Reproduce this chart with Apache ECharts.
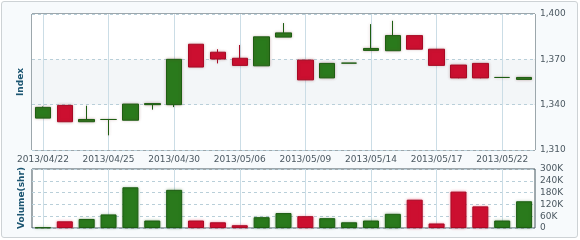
<!DOCTYPE html>
<html><head><meta charset="utf-8">
<script src="https://cdn.jsdelivr.net/npm/echarts@6/dist/echarts.min.js"></script>
<style>
html,body{margin:0;padding:0;background:#fff;}
#frame{position:absolute;left:1px;top:1px;width:575px;height:235px;border:1px solid #cdd2d5;border-radius:3px;background:#f7fafc;}
#chart{position:absolute;left:0;top:0;width:580px;height:240px;}
</style></head><body>
<div id="frame"></div><div id="chart"></div>
<script>
const categories = ['2013/04/22','2013/04/23','2013/04/24','2013/04/25','2013/04/26','2013/04/29','2013/04/30',
  '2013/05/02','2013/05/03','2013/05/06','2013/05/07','2013/05/08','2013/05/09','2013/05/10','2013/05/13',
  '2013/05/14','2013/05/15','2013/05/16','2013/05/17','2013/05/20','2013/05/21','2013/05/22','2013/05/23'];
const openValues  = [1331.1,1339.5,1328.7,1330.2,1329.7,1340.0,1340.0,1380.0,1374.7,1370.7,1365.7,1384.7,1369.5,1357.7,1367.5,1375.9,1375.7,1385.7,1376.7,1366.2,1367.3,1358.0,1356.7];
const closeValues = [1338.2,1328.7,1330.2,1330.2,1340.4,1340.7,1370.0,1364.9,1370.2,1366.0,1384.9,1387.5,1356.4,1367.3,1367.5,1377.2,1385.7,1376.7,1366.0,1357.7,1357.7,1358.0,1358.0];
const lowValues   = [1331.1,1328.7,1328.7,1319.7,1329.7,1336.7,1338.4,1364.9,1367.3,1366.0,1365.7,1384.7,1356.4,1357.7,1367.5,1375.9,1375.7,1376.7,1366.0,1357.5,1357.5,1358.0,1356.7];
const highValues  = [1338.8,1339.5,1339.3,1330.2,1340.4,1340.7,1370.0,1380.0,1376.7,1379.5,1384.9,1394.0,1369.5,1367.3,1367.5,1393.3,1395.5,1385.7,1376.7,1366.2,1367.3,1358.0,1358.0];
const volumes     = [3000,34000,46000,69000,207000,38000,194000,38000,29000,14000,55000,76000,60000,50000,29000,38000,72000,144000,23000,185000,110000,38000,136000];
const priceRange = [1310, 1400, 30];
const volumeRange = [0, 300000, 60000];

const UP = '#2a7a1c', UP_B = '#1d5e12', DN = '#cc0f30', DN_B = '#a80a25';
const candleData = categories.map((c, i) => [openValues[i], closeValues[i], lowValues[i], highValues[i]]);
function isUp(i) {
  if (closeValues[i] > openValues[i]) return true;
  if (closeValues[i] < openValues[i]) return false;
  return i === 0 || closeValues[i - 1] <= closeValues[i];
}
const volData = volumes.map((v, i) => ({
  value: v,
  itemStyle: isUp(i)
    ? {color: UP, borderColor: UP_B, borderWidth: 1, shadowBlur: 3, shadowColor: 'rgba(30,90,20,0.35)'}
    : {color: DN, borderColor: DN_B, borderWidth: 1, shadowBlur: 3, shadowColor: 'rgba(220,20,60,0.4)'}
}));

const FONT = 'DejaVu Sans';
const labelStyle = {color: '#4b5861', fontSize: 9, fontFamily: FONT};
const chart = echarts.init(document.getElementById('chart'), null, {renderer: 'canvas'});
chart.setOption({
  animation: false,
  backgroundColor: 'transparent',
  grid: [
    {left: 32, top: 14, width: 503, height: 136, show: true, backgroundColor: '#fff', borderColor: '#42545c', borderWidth: 1},
    {left: 32, top: 169, width: 503, height: 59, show: true, backgroundColor: '#fff', borderColor: '#42545c', borderWidth: 1}
  ],
  xAxis: [
    {type: 'category', gridIndex: 0, data: categories, boundaryGap: true,
     axisLine: {show: false}, axisTick: {show: false},
     axisLabel: Object.assign({interval: 2, margin: 5}, labelStyle),
     splitLine: {show: true, interval: 2, alignWithLabel: true, lineStyle: {color: '#cbdde6', width: 1}}},
    {type: 'category', gridIndex: 1, data: categories, boundaryGap: true,
     axisLine: {show: false}, axisTick: {show: false}, axisLabel: {show: false},
     splitLine: {show: true, interval: 2, alignWithLabel: true, lineStyle: {color: '#cbdde6', width: 1}}}
  ],
  yAxis: [
    {type: 'value', gridIndex: 0, position: 'right', min: priceRange[0], max: priceRange[1], interval: priceRange[2],
     axisLine: {show: false}, axisTick: {show: false},
     axisLabel: Object.assign({margin: 5, formatter: v => v.toLocaleString('en-US')}, labelStyle),
     splitLine: {show: true, lineStyle: {color: '#b9cfd9', type: [3, 3]}},
     splitArea: {show: true, areaStyle: {color: ['#ffffff', '#f3f6f8']}}},
    {type: 'value', gridIndex: 1, position: 'right', min: volumeRange[0], max: volumeRange[1], interval: volumeRange[2],
     axisLine: {show: false}, axisTick: {show: false},
     axisLabel: Object.assign({margin: 5, formatter: v => v === 0 ? '0' : (v / 1000) + 'K'}, labelStyle),
     splitLine: {show: true, lineStyle: {color: '#b9cfd9', type: [3, 3]}}}
  ],
  graphic: [
    {type: 'text', x: 21, y: 82, rotation: Math.PI / 2,
     style: {text: 'Index', fill: '#1d5672', font: 'bold 9px "DejaVu Sans"', align: 'center', verticalAlign: 'middle'}},
    {type: 'text', x: 21.5, y: 198, rotation: Math.PI / 2,
     style: {text: 'Volume(shr)', fill: '#1d5672', font: 'bold 9px "DejaVu Sans"', align: 'center', verticalAlign: 'middle'}}
  ],
  series: [
    {type: 'candlestick', xAxisIndex: 0, yAxisIndex: 0, data: candleData, barWidth: 16,
     itemStyle: {color: UP, color0: DN, borderColor: UP_B, borderColor0: DN_B, borderColorDoji: UP_B, borderWidth: 1,
                 shadowBlur: 3, shadowColor: 'rgba(120,40,40,0.3)'}},
    {type: 'bar', xAxisIndex: 1, yAxisIndex: 1, data: volData, barWidth: 16}
  ]
});
</script>
</body></html>
